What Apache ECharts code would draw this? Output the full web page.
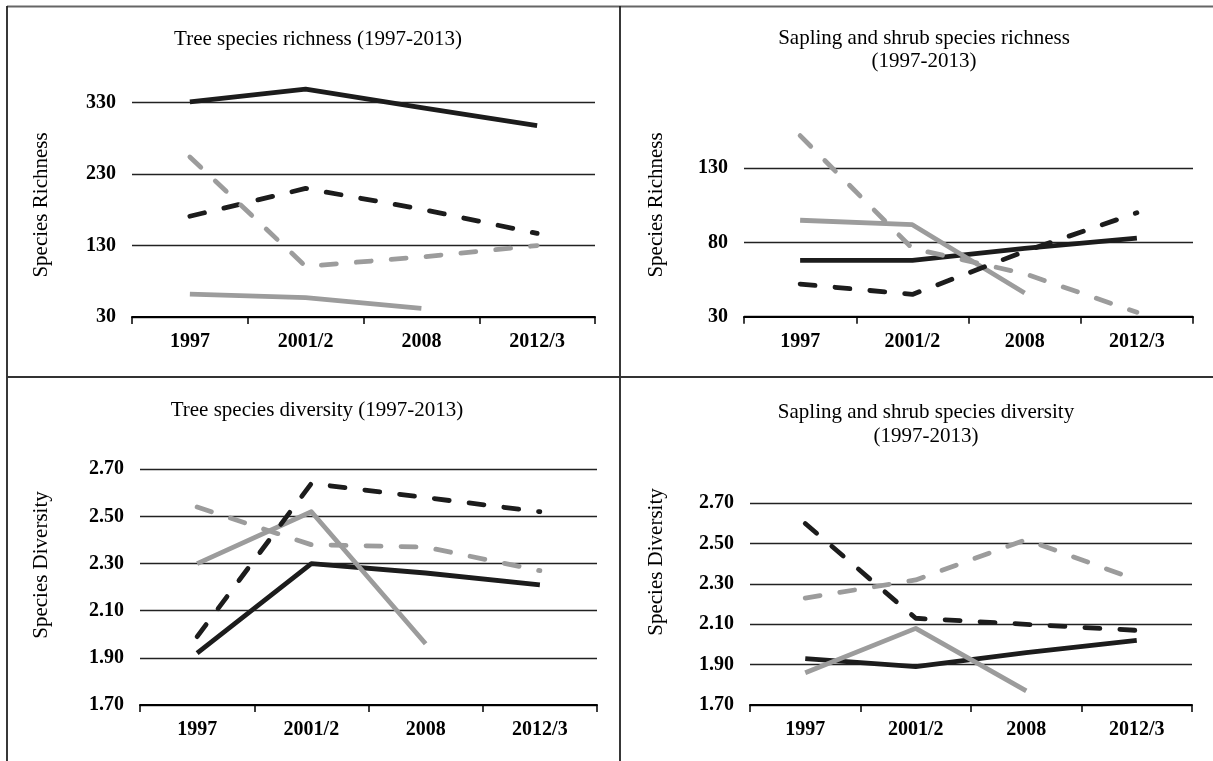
<!DOCTYPE html>
<html>
<head>
<meta charset="utf-8">
<script src="https://cdn.jsdelivr.net/npm/echarts@6/dist/echarts.min.js"></script>
<style>
html,body{margin:0;padding:0;background:#fff;}
#chart{width:1213px;height:761px;}
</style>
</head>
<body>
<div id="chart"></div>
<script>
// ---- data ----
var categories = ['1997', '2001/2', '2008', '2012/3'];

// Panel 1: Tree species richness
var treeRichBlackSolid  = [331, 349, 323, 298];
var treeRichBlackDashed = [171, 210, 181, 147];
var treeRichGraySolid   = [62, 57, 42, null];
var treeRichGrayDashed  = [254, 101, 114, 130];

// Panel 2: Sapling and shrub species richness
var sapRichBlackSolid  = [68, 68, 76, 83];
var sapRichBlackDashed = [52, 45, 74, 100];
var sapRichGraySolid   = [95, 92, 46, null];
var sapRichGrayDashed  = [152, 76, 59, 33];

// Panel 3: Tree species diversity
var treeDivBlackSolid  = [1.92, 2.30, 2.26, 2.21];
var treeDivBlackDashed = [1.99, 2.64, 2.58, 2.52];
var treeDivGraySolid   = [2.30, 2.52, 1.96, null];
var treeDivGrayDashed  = [2.54, 2.38, 2.37, 2.27];

// Panel 4: Sapling and shrub species diversity
var sapDivBlackSolid  = [1.93, 1.89, 1.96, 2.02];
var sapDivBlackDashed = [2.60, 2.13, 2.10, 2.07];
var sapDivGraySolid   = [1.86, 2.08, 1.77, null];
var sapDivGrayDashed  = [2.23, 2.32, 2.52, 2.32];

var panelTitles = [
  'Tree species richness (1997-2013)',
  'Sapling and shrub species richness\n(1997-2013)',
  'Tree species diversity (1997-2013)',
  'Sapling and shrub species diversity\n(1997-2013)'
];
var yNames = ['Species Richness', 'Species Richness', 'Species Diversity', 'Species Diversity'];
var yTicks = [
  {min: 30, max: 330, interval: 100, digits: 0},
  {min: 30, max: 130, interval: 50, digits: 0},
  {min: 1.7, max: 2.7, interval: 0.2, digits: 2},
  {min: 1.7, max: 2.7, interval: 0.2, digits: 2}
];
var panelData = [
  [treeRichBlackSolid, treeRichBlackDashed, treeRichGraySolid, treeRichGrayDashed],
  [sapRichBlackSolid, sapRichBlackDashed, sapRichGraySolid, sapRichGrayDashed],
  [treeDivBlackSolid, treeDivBlackDashed, treeDivGraySolid, treeDivGrayDashed],
  [sapDivBlackSolid, sapDivBlackDashed, sapDivGraySolid, sapDivGrayDashed]
];
var seriesNames = ['Series 1', 'Series 2', 'Series 3', 'Series 4'];

// ---- layout / style ----
var FONT = "'Liberation Serif', 'Times New Roman', serif";
var BLACK = '#1c1c1c';
var GRAY = '#9c9c9c';
var styles = [
  {color: BLACK, dashed: false},
  {color: BLACK, dashed: true},
  {color: GRAY, dashed: false},
  {color: GRAY, dashed: true}
];
var grids = [
  {left: 132, top: 102.7, width: 463, height: 214.3},
  {left: 744, top: 168.3, width: 449, height: 148.4},
  {left: 140, top: 469.3, width: 457, height: 235.7},
  {left: 750, top: 503.3, width: 442, height: 201.7}
];
var titlePos = [
  {x: 318, y: 28, lh: 23},
  {x: 924, y: 27, lh: 23},
  {x: 317, y: 399, lh: 23},
  {x: 926, y: 400, lh: 24}
];
var namePos = [
  {x: 41, y: 205},
  {x: 656, y: 205},
  {x: 41, y: 565},
  {x: 656, y: 562}
];

var option = {
  animation: false,
  backgroundColor: '#fff',
  title: [],
  grid: [],
  xAxis: [],
  yAxis: [],
  series: [],
  graphic: []
};

for (var p = 0; p < 4; p++) {
  option.title.push({
    text: panelTitles[p],
    left: titlePos[p].x,
    top: titlePos[p].y,
    textAlign: 'center',
    padding: 0,
    textStyle: {fontFamily: FONT, fontSize: 21, fontWeight: 'normal', color: '#000', lineHeight: titlePos[p].lh}
  });
  option.grid.push(grids[p]);
  option.xAxis.push({
    type: 'category',
    gridIndex: p,
    data: categories,
    boundaryGap: true,
    axisLine: {show: true, lineStyle: {color: '#000', width: 2}},
    axisTick: {show: true, alignWithLabel: false, length: 7, lineStyle: {color: '#000', width: 1.5}},
    axisLabel: {margin: 15, fontFamily: FONT, fontSize: 20, fontWeight: 'bold', color: '#000'},
    splitLine: {show: false}
  });
  (function (t) {
    option.yAxis.push({
      type: 'value',
      gridIndex: p,
      min: t.min,
      max: t.max,
      interval: t.interval,
      axisLine: {show: false},
      axisTick: {show: false},
      axisLabel: {
        margin: 16, fontFamily: FONT, fontSize: 20, fontWeight: 'bold', color: '#000',
        formatter: function (v) { return Number(v).toFixed(t.digits); }
      },
      splitLine: {show: true, lineStyle: {color: '#222', width: 1.3}}
    });
  })(yTicks[p]);
  for (var s = 0; s < 4; s++) {
    option.series.push({
      name: seriesNames[s],
      type: 'line',
      xAxisIndex: p,
      yAxisIndex: p,
      data: panelData[p][s],
      clip: false,
      showSymbol: false,
      symbol: 'none',
      connectNulls: false,
      z: s % 2 === 0 ? 3 : 4,
      lineStyle: {
        color: styles[s].color,
        width: 4.8,
        type: styles[s].dashed ? [15, 20] : 'solid',
        cap: styles[s].dashed ? 'round' : 'butt',
        join: 'round'
      }
    });
  }
  option.graphic.push({
    type: 'text',
    x: namePos[p].x,
    y: namePos[p].y,
    rotation: Math.PI / 2,
    style: {
      text: yNames[p],
      fontFamily: FONT,
      fontSize: 21,
      fill: '#000',
      align: 'center',
      verticalAlign: 'middle'
    }
  });
}

// panel borders
option.graphic.push(
  {type: 'line', shape: {x1: 7, y1: 6.5, x2: 1213, y2: 6.5}, style: {stroke: '#666', lineWidth: 2}},
  {type: 'line', shape: {x1: 7, y1: 6, x2: 7, y2: 761}, style: {stroke: '#222', lineWidth: 1.8}},
  {type: 'line', shape: {x1: 620, y1: 6, x2: 620, y2: 761}, style: {stroke: '#222', lineWidth: 1.8}},
  {type: 'line', shape: {x1: 7, y1: 377, x2: 1213, y2: 377}, style: {stroke: '#333', lineWidth: 1.8}}
);

var chart = echarts.init(document.getElementById('chart'), null, {renderer: 'canvas'});
chart.setOption(option);
</script>
</body>
</html>
